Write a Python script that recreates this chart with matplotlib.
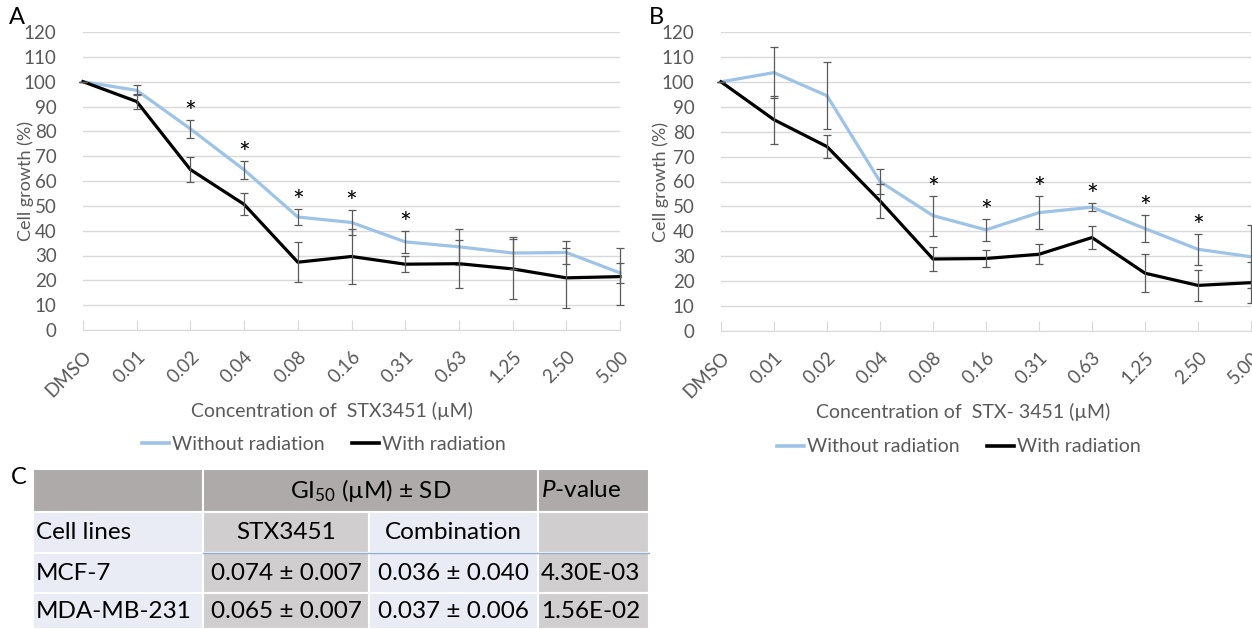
import matplotlib

matplotlib.use("Agg")
import matplotlib.pyplot as plt
from matplotlib.lines import Line2D
from matplotlib.patches import Rectangle

plt.rcParams["font.family"] = ["Lato", "DejaVu Sans"]
plt.rcParams["mathtext.fontset"] = "custom"
plt.rcParams["mathtext.rm"] = "Lato"
plt.rcParams["mathtext.it"] = "Lato:italic"

concentrations = ["DMSO", "0.01", "0.02", "0.04", "0.08", "0.16", "0.31", "0.63", "1.25", "2.50", "5.00"]

a_without = [100, 96.5, 81, 64.5, 45.5, 43.3, 35.5, 33.5, 31, 31.2, 23]
a_without_sd = [0, 2, 3.6, 3.5, 3.3, 5.2, 4.3, 7.3, 6.6, 4.8, 4]
a_with = [100, 92, 64.6, 50.6, 27.3, 29.6, 26.5, 26.7, 24.6, 21, 21.5]
a_with_sd = [0, 3.2, 5.2, 4.4, 8, 11, 3.3, 9.7, 12, 12, 11.5]
a_signif = [False, False, True, True, True, True, True, False, False, False, False]

b_without = [100, 103.7, 94.4, 60, 46.3, 40.6, 47.5, 49.7, 41.1, 32.8, 29.8]
b_without_sd = [0, 10.3, 13.5, 5, 8, 4.4, 6.7, 1.6, 5.5, 6.3, 12.6]
b_with = [100, 84.8, 74, 52.2, 28.9, 29.1, 30.8, 37.5, 23.2, 18.3, 19.4]
b_with_sd = [0, 9.7, 4.5, 6.9, 4.7, 3.3, 4, 4.7, 7.7, 6.2, 8.3]
b_signif = [False, False, False, False, True, True, True, True, True, True, False]

series_names = ["Without radiation", "With radiation"]
xlabel_a = "Concentration of  STX3451 (µM)"
xlabel_b = "Concentration of  STX- 3451 (µM)"

table_header = ["", "GI$_{50}$ (µM) ± SD", "$\\it{P}$-value"]
table_subheader = ["Cell lines", "STX3451", "Combination", ""]
table_rows = [
    ["MCF-7", "0.074 ± 0.007", "0.036 ± 0.040", "4.30E-03"],
    ["MDA-MB-231", "0.065 ± 0.007", "0.037 ± 0.006", "1.56E-02"],
]

BLUE = "#9dc3e6"
GRAY_TEXT = "#595959"
GRID = "#d9d9d9"

W, H = 1252, 629
fig = plt.figure(figsize=(W / 100, H / 100), dpi=100)


def px_axes(left, top, right, bottom):
    return fig.add_axes([left / W, 1 - bottom / H, (right - left) / W, (bottom - top) / H])


def draw_panel(ax, without, without_sd, with_, with_sd, signif, ylabel_x):
    x = list(range(len(concentrations)))
    ax.plot(x, without, color=BLUE, lw=2.3, zorder=2, clip_on=False, solid_joinstyle="round")
    ax.plot(x, with_, color="black", lw=2.3, zorder=2, clip_on=False, solid_joinstyle="round")
    for vals, sd in ((without, without_sd), (with_, with_sd)):
        cont = ax.errorbar(x, vals, yerr=sd, fmt="none", ecolor="#5a5a5a", elinewidth=0.9,
                           capsize=2.8, capthick=0.9, zorder=3)
        for art in list(cont.lines[1]) + list(cont.lines[2]):
            art.set_clip_on(False)
    for i, flag in enumerate(signif):
        if flag:
            top = without[i] + without_sd[i]
            ax.text(i, top - 0.8, "*", ha="center", va="baseline", fontsize=20, color="black")
    ax.set_xlim(0, len(concentrations) - 1)
    ax.set_ylim(0, 120)
    ax.set_yticks(range(0, 121, 10))
    ax.grid(axis="y", color=GRID, lw=1)
    ax.set_axisbelow(True)
    for side in ("top", "right", "left"):
        ax.spines[side].set_visible(False)
    ax.spines["bottom"].set_color(GRID)
    ax.tick_params(axis="y", length=0, pad=19, labelsize=13.5, labelcolor=GRAY_TEXT)
    ax.tick_params(axis="x", direction="in", length=7, color=GRID, pad=13, labelsize=13.5,
                   labelcolor=GRAY_TEXT)
    ax.set_xticks(x, concentrations, rotation=45, ha="right", rotation_mode="anchor")
    ax.set_ylabel("Cell growth (%)", fontsize=13, color=GRAY_TEXT)
    ax.yaxis.set_label_coords(ylabel_x, 0.5)


ax_a = px_axes(83, 32, 620, 330)
draw_panel(ax_a, a_without, a_without_sd, a_with, a_with_sd, a_signif, (34 - 83) / (620 - 83))
ax_b = px_axes(721, 32, 1251, 331)
draw_panel(ax_b, b_without, b_without_sd, b_with, b_with_sd, b_signif, (669 - 721) / (1251 - 721))

fig.text(332 / W, 1 - 411 / H, xlabel_a, ha="center", va="center", fontsize=14, color=GRAY_TEXT)
fig.text(963 / W, 1 - 412 / H, xlabel_b, ha="center", va="center", fontsize=14, color=GRAY_TEXT)

handles = [Line2D([], [], color=BLUE, lw=2.6), Line2D([], [], color="black", lw=2.6)]
for cx, cy in ((324, 444), (959, 447)):
    fig.legend(handles, series_names, loc="center", bbox_to_anchor=(cx / W, 1 - cy / H), ncol=2,
               frameon=False, fontsize=14, handlelength=1.4, handletextpad=0.15,
               columnspacing=1.4, labelcolor=GRAY_TEXT)

fig.text(9 / W, 1 - 18 / H, "A", fontsize=17, va="center", ha="left")
fig.text(649 / W, 1 - 18 / H, "B", fontsize=17, va="center", ha="left")
fig.text(11 / W, 1 - 477 / H, "C", fontsize=17, va="center", ha="left")

# table drawn in pixel space
tab = fig.add_axes([0, 0, 1, 1])
tab.set_xlim(0, W)
tab.set_ylim(H, 0)
tab.axis("off")
col_x = [33, 203, 369, 538, 649]
row_y = [469, 512, 553, 593, 629]
HEAD = "#aeaaaa"
LIGHT = "#e9ebf5"
MID = "#d0cece"
fs = 17.5


def cell(x0, x1, y0, y1, color):
    tab.add_patch(Rectangle((x0, y0), x1 - x0, y1 - y0, facecolor=color, edgecolor="white", lw=1.5))


cell(col_x[0], col_x[1], row_y[0], row_y[1], HEAD)
cell(col_x[1], col_x[3], row_y[0], row_y[1], HEAD)
cell(col_x[3], col_x[4], row_y[0], row_y[1], HEAD)
body = [table_subheader] + table_rows
for r, row in enumerate(body):
    y0, y1 = row_y[r + 1], row_y[r + 2]
    for c, label in enumerate(row):
        color = LIGHT if c in (0, 2) else MID
        cell(col_x[c], col_x[c + 1], y0, y1, color)
        ym = (y0 + y1) / 2
        if c == 0 or c == 3:
            tab.text(col_x[c] + 3, ym, label, ha="left", va="center", fontsize=fs, color="black")
        else:
            tab.text((col_x[c] + col_x[c + 1]) / 2, ym, label, ha="center", va="center",
                     fontsize=fs, color="black")
ym = (row_y[0] + row_y[1]) / 2
tab.text((col_x[1] + col_x[3]) / 2, ym, table_header[1], ha="center", va="center", fontsize=fs)
tab.text(col_x[3] + 3, ym, table_header[2], ha="left", va="center", fontsize=fs)
tab.plot([col_x[1], col_x[4]], [row_y[2], row_y[2]], color="#8faadc", lw=1)

fig.savefig("out.png", dpi=100)
